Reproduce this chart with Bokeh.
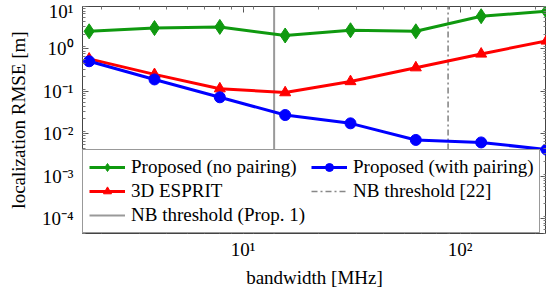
from bokeh.plotting import figure
from bokeh.models import (LogAxis, LogTicker, CustomJSTickFormatter, Legend, LegendItem, Range1d)
from bokeh.embed import file_html
from bokeh.resources import INLINE

# ---- data ----
bandwidth_mhz = [1.953125, 3.90625, 7.8125, 15.625, 31.25, 62.5, 125.0, 250.0]
rmse_no_pairing = [2.6, 3.1, 3.3, 2.07, 2.75, 2.6, 5.9, 7.7]
rmse_with_pairing = [0.51, 0.19, 0.072, 0.0275, 0.0175, 0.0071, 0.0062, 0.0042]
rmse_esprit = [0.58, 0.25, 0.115, 0.093, 0.17, 0.36, 0.76, 1.54]
nb_threshold_prop1 = 13.9
nb_threshold_ref22 = 88.0
x_limits = [1.82, 250.0]
y_limits = [4.4e-5, 10.0]

FONT = "'Liberation Serif', 'Times New Roman', serif"
FS = "19px"

p = figure(width=546, height=290, x_axis_type="log", y_axis_type="log",
           x_range=Range1d(*x_limits), y_range=Range1d(*y_limits),
           output_backend="svg", toolbar_location=None,
           min_border_left=82, min_border_right=0, min_border_top=6, min_border_bottom=44)
p.grid.visible = False
p.outline_line_color = "#444444"
p.background_fill_color = "white"
p.border_fill_color = "white"

fmt_code = """
const e = Math.round(Math.log10(tick));
const sup = {"-":"\u207b","0":"\u2070","1":"\u00b9","2":"\u00b2","3":"\u00b3","4":"\u2074","5":"\u2075","6":"\u2076","7":"\u2077","8":"\u2078","9":"\u2079"};
return "10" + String(e).split("").map(c => sup[c]).join("");
"""

xticker = LogTicker(mantissas=[1], desired_num_ticks=3, num_minor_ticks=9)
yticker = LogTicker(mantissas=[1], desired_num_ticks=6, num_minor_ticks=9)

def style_axis(ax, ticker, labels=True):
    ax.ticker = ticker
    ax.formatter = CustomJSTickFormatter(code=fmt_code if labels else "return '';")
    ax.major_tick_in = 6
    ax.major_tick_out = 0
    ax.minor_tick_in = 3
    ax.minor_tick_out = 0
    ax.major_tick_line_color = "#555555"
    ax.minor_tick_line_color = "#777777"
    ax.axis_line_color = None
    ax.major_label_text_font = FONT
    ax.major_label_text_font_size = FS
    ax.major_label_text_color = "black"
    ax.axis_label_text_font = FONT
    ax.axis_label_text_font_size = FS
    ax.axis_label_text_font_style = "normal"
    ax.axis_label_text_color = "black"

style_axis(p.xaxis[0], xticker)
style_axis(p.yaxis[0], yticker)
p.xaxis[0].axis_label = "bandwidth [MHz]"
p.yaxis[0].axis_label = "localization RMSE [m]"
p.xaxis[0].major_label_standoff = 5
p.xaxis[0].axis_label_standoff = 4
p.yaxis[0].major_label_standoff = 9
p.yaxis[0].axis_label_standoff = 10

top_ax = LogAxis()
style_axis(top_ax, xticker, labels=False)
top_ax.major_label_standoff = 0
top_ax.axis_label_standoff = 0
p.add_layout(top_ax, "above")
right_ax = LogAxis()
style_axis(right_ax, yticker, labels=False)
right_ax.major_label_standoff = 0
right_ax.axis_label_standoff = 0
p.add_layout(right_ax, "right")

# vertical threshold lines
v1 = p.line([nb_threshold_prop1, nb_threshold_prop1], y_limits, line_color="#999999", line_width=2)
v2 = p.line([nb_threshold_ref22, nb_threshold_ref22], y_limits, line_color="#888888",
            line_width=1.6, line_dash="6 3 2 3")

GREEN = "#0f990f"
RED = "#ff0000"
BLUE = "#0000ff"

g_l = p.line(bandwidth_mhz, rmse_no_pairing, line_color=GREEN, line_width=3)
g_m = p.scatter(bandwidth_mhz, rmse_no_pairing, marker="diamond", size=15, color=GREEN)
r_l = p.line(bandwidth_mhz, rmse_esprit, line_color=RED, line_width=3)
r_m = p.scatter(bandwidth_mhz, rmse_esprit, marker="triangle", size=11, color=RED)
b_l = p.line(bandwidth_mhz, rmse_with_pairing, line_color=BLUE, line_width=3)
b_m = p.scatter(bandwidth_mhz, rmse_with_pairing, marker="circle", size=11, color=BLUE)

legend = Legend(items=[
    LegendItem(label="Proposed (no pairing)", renderers=[g_l, g_m]),
    LegendItem(label="3D ESPRIT", renderers=[r_l, r_m]),
    LegendItem(label="NB threshold (Prop. 1)", renderers=[v1]),
    LegendItem(label="Proposed (with pairing)", renderers=[b_l, b_m]),
    LegendItem(label="NB threshold [22]", renderers=[v2]),
], ncols=2, location=(0, 0))
legend.label_text_font = FONT
legend.label_text_font_size = FS
legend.label_text_color = "black"
legend.glyph_width = 36
legend.glyph_height = 20
legend.label_height = 20
legend.label_width = 178
legend.label_standoff = 6
legend.spacing = 2
legend.padding = 6
legend.margin = 0
legend.border_line_color = "#333333"
legend.background_fill_alpha = 1.0
p.add_layout(legend)

open("out.html", "w").write(file_html(p, INLINE))
